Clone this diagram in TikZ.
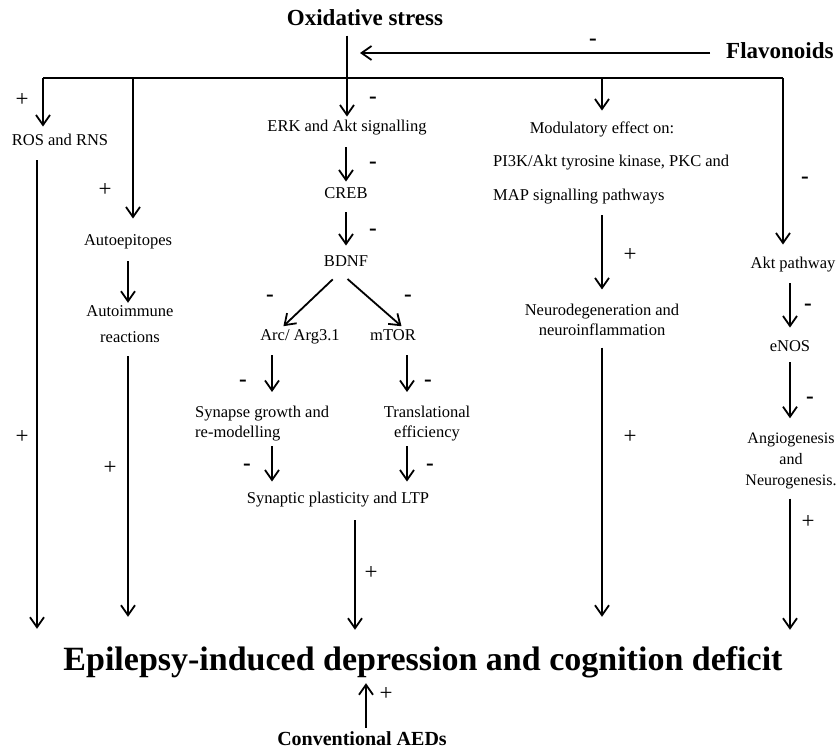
\documentclass[tikz,border=0pt]{standalone}
\usepackage{fontspec}
\setmainfont{Liberation Serif}
\usetikzlibrary{arrows.meta}
\usetikzlibrary{calc}

\tikzset{
  ln/.style={line width=1.8pt},
  arr/.style={ln, -{Straight Barb[length=10pt,width=14pt,line width=1.8pt]}},
  lbl/.style={font=\fontsize{16.5}{20}\selectfont, inner sep=2pt, text height=11pt, text depth=3.5pt},
  blk/.style={font=\fontsize{16.5}{20}\selectfont, inner sep=2pt, align=center},
  head/.style={font=\bfseries\fontsize{23}{27}\selectfont, inner sep=2pt, text height=16pt, text depth=5pt},
  sgn/.style={font=\fontsize{23}{24}\selectfont, inner sep=0pt},
}

\begin{document}
\begin{tikzpicture}[x=1pt,y=-1pt]
  \useasboundingbox (0,0) rectangle (839,751);

  % sources at the top
  \node[head] (ox) at (365,20) {Oxidative stress};
  \node[head, anchor=west] (flav) at (724,53) {Flavonoids};
  \coordinate (flavEnd) at (360,53);
  \draw[arr, shorten <=14pt] (flav.west) -- (flavEnd);
  \node[sgn] (sFlav) at (593,42) {\textbf{-}};

  % branching bar
  \coordinate (barL) at (43,78);
  \coordinate (barA) at (133,78);
  \coordinate (barR) at (783,78);
  \draw[ln] (barL) -- (barR);

  % target
  \node[font=\bfseries\fontsize{34}{38}\selectfont, inner sep=0pt, text height=24pt, text depth=8pt] (title) at (423,662)
    {Epilepsy-induced depression and cognition deficit};
  \node[font=\bfseries\fontsize{20}{24}\selectfont, inner sep=1pt, text height=14pt, text depth=4pt] (aed) at (362,740) {Conventional AEDs};
  \coordinate (aedA) at ([xshift=4pt]aed.north);
  \draw[arr, shorten <=2pt, shorten >=5pt] (aedA) -- (aedA |- title.south);
  \node[sgn] (sAed) at (386,694) {+};

  % ROS column
  \node[lbl] (ros) at (60,142) {ROS and RNS};
  \draw[arr, shorten >=6pt] (barL) -- (barL |- ros.north);
  \node[sgn] (sRos1) at (22,100) {+};
  \coordinate (rosA) at ([xshift=-23pt]ros.south);
  \draw[arr, shorten <=9pt, shorten >=17pt] (rosA) -- (rosA |- title.north);
  \node[sgn] (sRos2) at (22,437) {+};

  % autoimmune column
  \node[lbl] (auto) at (128,242) {Autoepitopes};
  \draw[arr, shorten >=14pt] (barA) -- (barA |- auto.north);
  \node[sgn] (sAuto1) at (105,190) {+};
  \node[blk, font=\fontsize{16.5}{26}\selectfont] (autoim) at (130,324.5) {Autoimmune\\reactions};
  \draw[arr, shorten <=10pt, shorten >=1pt] (auto.south) -- (auto.south |- autoim.north);
  \draw[arr, shorten <=11pt, shorten >=29pt] (auto.south |- autoim.south) -- (auto.south |- title.north);
  \node[sgn] (sAuto2) at (110,468) {+};

  % BDNF column
  \node[lbl] (erk) at (347,128) {ERK and Akt signalling};
  \draw[arr, shorten <=3pt, shorten >=2pt] (ox.south -| erk.north) -- (erk.north);
  \node[sgn] (sOx) at (373,100) {\textbf{-}};
  \node[lbl] (creb) at (346,195) {CREB};
  \draw[arr, shorten <=10pt, shorten >=4pt] (erk.south -| creb) -- (creb.north);
  \node[sgn] (sErk) at (373,165) {\textbf{-}};
  \node[lbl] (bdnf) at (346,263) {BDNF};
  \draw[arr, shorten <=8pt, shorten >=8pt] (creb.south) -- (bdnf.north);
  \node[sgn] (sCreb) at (373,232) {\textbf{-}};
  \node[lbl] (arc) at (300,337) {Arc/ Arg3.1};
  \node[lbl] (mtor) at (393,337) {mTOR};
  \draw[arr, shorten <=10pt, shorten >=2pt] ([xshift=-6pt]bdnf.south) -- ([xshift=-18pt]arc.north);
  \draw[arr, shorten <=10pt, shorten >=2pt] ([xshift=-6pt]bdnf.south) -- ([xshift=10pt]mtor.north);
  \node[sgn] (sBl) at (270,298) {\textbf{-}};
  \node[sgn] (sBr) at (408,298) {\textbf{-}};
  \node[blk, align=left, anchor=north west] (syn) at (193,404) {Synapse growth and\\re-modelling};
  \node[blk, anchor=north] (trans) at (427,404) {Translational\\efficiency};
  \coordinate (arcA) at ([xshift=-28pt]arc.south);
  \coordinate (mtorA) at ([xshift=14pt]mtor.south);
  \draw[arr, shorten <=9pt, shorten >=12pt] (arcA) -- (arcA |- syn.north);
  \draw[arr, shorten <=9pt, shorten >=12pt] (mtorA) -- (mtorA |- trans.north);
  \node[sgn] (sArc) at (243,383) {\textbf{-}};
  \node[sgn] (sMtor) at (428,383) {\textbf{-}};
  \node[lbl] (spl) at (338,500) {Synaptic plasticity and LTP};
  \draw[arr, shorten <=3pt, shorten >=9pt] (syn.south -| arcA) -- (spl.north -| arcA);
  \draw[arr, shorten <=3pt, shorten >=9pt] (trans.south -| mtorA) -- (spl.north -| mtorA);
  \node[sgn] (sSyn) at (247,467) {\textbf{-}};
  \node[sgn] (sTr) at (430,467) {\textbf{-}};
  \coordinate (splA) at ([xshift=17pt]spl.south);
  \draw[arr, shorten <=11pt, shorten >=16pt] (splA) -- (splA |- title.north);
  \node[sgn] (sSpl) at (371,573) {+};

  % modulatory column
  \node[lbl] (mod1) at (602,130) {Modulatory effect on:};
  \node[lbl, anchor=west] (mod2) at (491,163) {PI3K/Akt tyrosine kinase, PKC and};
  \node[lbl, anchor=west] (mod3) at (491,197) {MAP signalling pathways};
  \draw[arr, shorten >=10pt] (mod1.north |- barL) -- (mod1.north);
  \node[blk] (neuro) at (602,319.5) {Neurodegeneration and\\neuroinflammation};
  \draw[arr, shorten <=9pt, shorten >=12pt] (mod3.south -| neuro.north) -- (neuro.north);
  \node[sgn] (sMod) at (630,255) {+};
  \draw[arr, shorten <=10pt, shorten >=29pt] (neuro.south) -- (neuro.south |- title.north);
  \node[sgn] (sNeuro) at (630,437) {+};

  % Akt column
  \node[lbl] (akt) at (793,265) {Akt pathway};
  \draw[arr, shorten >=11pt] (barR) -- (barR |- akt.north);
  \node[sgn] (sBarR) at (805,180) {\textbf{-}};
  \node[lbl] (enos) at (790,348) {eNOS};
  \draw[arr, shorten <=9pt, shorten >=11pt] (akt.south -| enos) -- (enos.north);
  \node[sgn] (sAkt) at (808,307) {\textbf{-}};
  \node[blk, font=\fontsize{16}{21}\selectfont] (angio) at (791,460.5) {Angiogenesis\\and\\Neurogenesis.};
  \draw[arr, shorten <=5pt, shorten >=12pt] (enos.south) -- (enos.south |- angio.north);
  \node[sgn] (sEnos) at (810,400) {\textbf{-}};
  \draw[arr, shorten <=8pt, shorten >=16pt] (angio.south -| enos) -- (enos |- title.north);
  \node[sgn] (sAngio) at (808,522) {+};
\end{tikzpicture}
\end{document}
